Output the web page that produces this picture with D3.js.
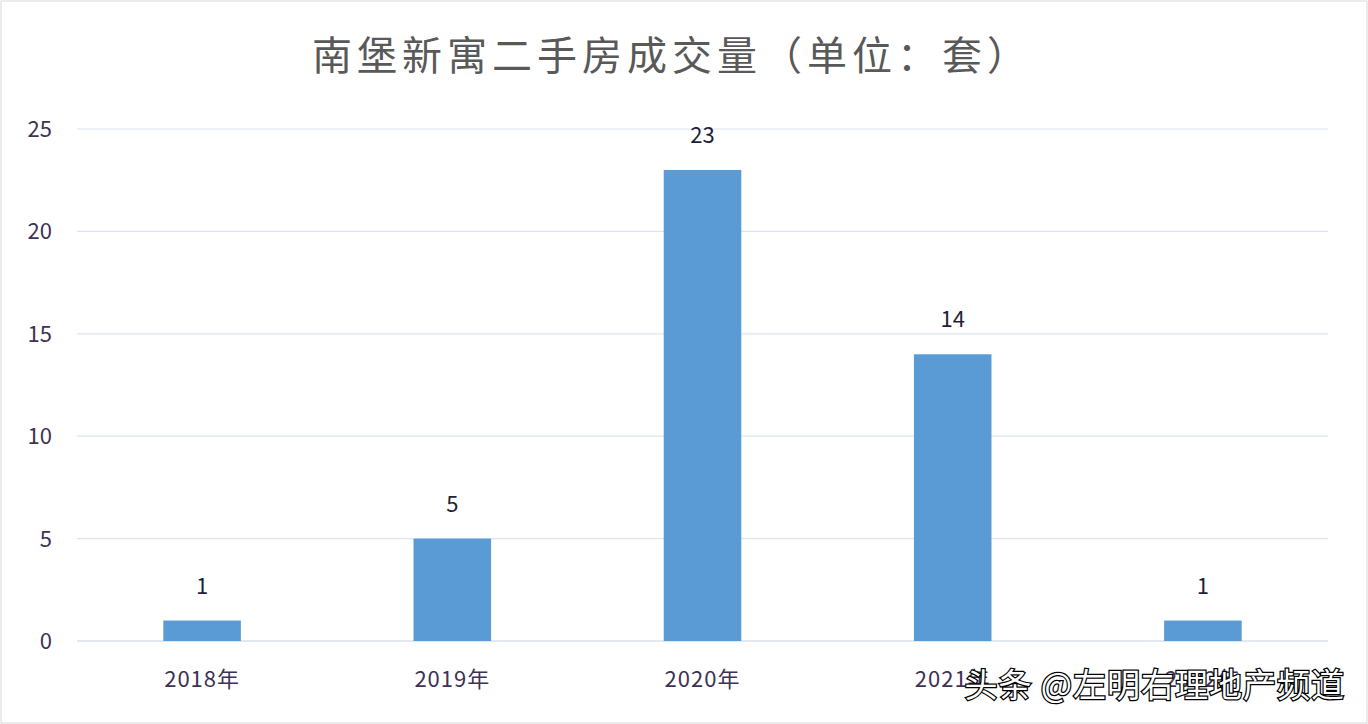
<!DOCTYPE html>
<html><head><meta charset="utf-8">
<script src="https://cdn.jsdelivr.net/npm/d3@7"></script>
<style>body{margin:0;background:#fff}</style>
</head><body>
<script>
const years = ['2018年','2019年','2020年','2021年','2022年'];
const counts = [1, 5, 23, 14, 1];
const yTicks = [0, 5, 10, 15, 20, 25];

const width = 1368, height = 724;
const svg = d3.select('body').append('svg').attr('width', width).attr('height', height);
svg.append('rect').attr('x',1).attr('y',1).attr('width',width-2).attr('height',height-2)
  .attr('fill','#fff').attr('stroke','#d9d9d9');

const font = '"Noto Sans CJK SC", sans-serif';
const x = d3.scaleBand().domain(years).range([77, 1328]).paddingInner(0.69).paddingOuter(0.345);
const y = d3.scaleLinear().domain([0, 25]).range([641, 129]);

svg.append('text').attr('x', 672).attr('y', 70).attr('text-anchor','middle')
  .attr('font-family', font).attr('font-size', 40).attr('fill','#595959')
  .attr('letter-spacing', 5).text('南堡新寓二手房成交量（单位：套）');

svg.append('g').selectAll('line').data(yTicks).join('line')
  .attr('x1', 77).attr('x2', 1328).attr('y1', d => y(d)).attr('y2', d => y(d))
  .attr('stroke', d => d === 0 ? '#c8d0e0' : '#dde3ef').attr('stroke-width', 1.2);

svg.append('g').selectAll('text').data(yTicks).join('text')
  .attr('x', 52).attr('y', d => y(d) + 8).attr('text-anchor','end')
  .attr('font-family', font).attr('font-size', 22).attr('fill','#3d3356').text(d => d);

svg.append('g').selectAll('rect').data(counts).join('rect')
  .attr('x', (d, i) => x(years[i])).attr('width', x.bandwidth())
  .attr('y', d => y(d)).attr('height', d => y(0) - y(d)).attr('fill', '#5b9bd5');

svg.append('g').selectAll('text').data(counts).join('text')
  .attr('x', (d, i) => x(years[i]) + x.bandwidth() / 2).attr('y', d => y(d) - 27)
  .attr('text-anchor','middle').attr('font-family', font).attr('font-size', 22)
  .attr('fill','#1f1f3a').text(d => d);

svg.append('g').selectAll('text').data(years).join('text')
  .attr('x', d => x(d) + x.bandwidth() / 2).attr('y', 687).attr('text-anchor','middle')
  .attr('font-family', font).attr('font-size', 22).attr('fill','#3d3356')
  .attr('letter-spacing', 1).text(d => d);

svg.append('text').attr('x', 1345).attr('y', 697).attr('text-anchor','end')
  .attr('font-family', font).attr('font-size', 33).attr('fill','#fff')
  .attr('stroke','#000').attr('stroke-width', 2.5).attr('paint-order','stroke')
  .attr('letter-spacing', 1).text('头条 @左明右理地产频道');
</script>
</body></html>
